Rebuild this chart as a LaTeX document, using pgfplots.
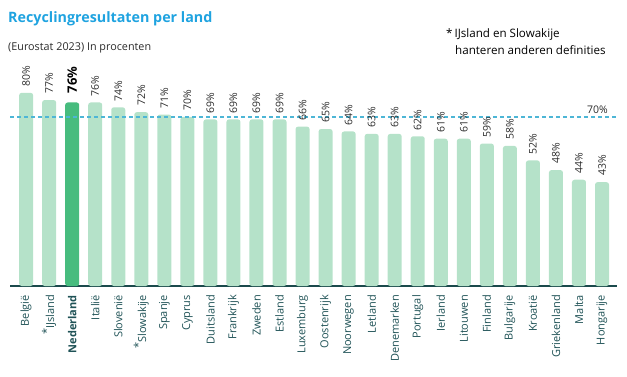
\documentclass[border=0pt]{standalone}
\usepackage{pgfplots}
\pgfplotsset{compat=1.18}
\usepackage{fontspec}
\setmainfont{Open Sans}
\definecolor{barlight}{HTML}{B5E2C9}
\definecolor{bardark}{HTML}{47BC7E}
\definecolor{titleblue}{HTML}{1FA3E0}
\definecolor{axisteal}{HTML}{1B4A4C}
\definecolor{ticktext}{HTML}{1F5256}
\definecolor{dashblue}{HTML}{4DB6D6}
\definecolor{txtgray}{HTML}{2B2B2B}
\begin{document}
\begin{tikzpicture}
\path[use as bounding box] (0,0) rectangle (627pt,376pt);
\node[anchor=base west, inner sep=0, font=\fontsize{14.3}{18}\selectfont\bfseries, text=titleblue] at (8pt,353pt) {Recyclingresultaten per land};
\node[anchor=base west, inner sep=0, font=\fontsize{10.8}{12}\selectfont, text=txtgray] at (8pt,326pt) {(Eurostat 2023) In procenten};
\node[anchor=base west, inner sep=0, font=\fontsize{11.6}{13}\selectfont, text=black] at (446pt,339pt) {*\,IJsland en Slowakije};
\node[anchor=base west, inner sep=0, font=\fontsize{11.6}{13}\selectfont, text=black] at (455pt,322pt) {hanteren anderen definities};
\begin{axis}[
  at={(10pt,90pt)}, anchor=south west,
  scale only axis, width=607pt, height=217.35pt,
  xmin=-0.7, xmax=25.65, ymin=0, ymax=90,
  clip=false,
  hide y axis,
  axis x line*=bottom,
  x axis line style={color=axisteal, line width=1.6pt},
  xtick={0,...,25},
  major tick length=0pt,
  xticklabels={België,\raisebox{0.35em}{*}IJsland,\textbf{Nederland},Italië,Slovenië,\raisebox{0.35em}{*}Slowakije,Spanje,Cyprus,Duitsland,Frankrijk,Zweden,Estland,Luxemburg,Oostenrijk,Noorwegen,Letland,Denemarken,Portugal,Ierland,Litouwen,Finland,Bulgarije,Kroatië,Griekenland,Malta,Hongarije},
  xticklabel style={rotate=90, anchor=east, font=\fontsize{11}{13}\selectfont, text=ticktext, inner sep=0pt},
  xticklabel shift=9pt,
  ybar, bar width=14pt, bar shift=0pt,
  nodes near coords={\pgfmathprintnumber[assume math mode=true]{\pgfplotspointmeta}\%},
  nodes near coords style={rotate=90, anchor=west, font=\fontsize{10.5}{12}\selectfont, text=txtgray, inner sep=0pt, xshift=6pt},
]
\addplot[draw=none, fill=barlight, rounded corners=2.5pt] coordinates {
(0,80) (1,77) (3,76) (4,74) (5,72) (6,71) (7,70) (8,69) (9,69) (10,69) (11,69) (12,66) (13,65) (14,64) (15,63) (16,63) (17,62) (18,61) (19,61) (20,59) (21,58) (22,52) (23,48) (24,44) (25,43)};
\addplot[draw=none, fill=bardark, rounded corners=2.5pt, nodes near coords style={font=\fontsize{13}{15}\selectfont\bfseries, text=black, xshift=3pt}] coordinates {(2,76)};
\addplot[sharp plot, no markers, draw=dashblue, line width=1.2pt, dash pattern=on 4pt off 3pt, nodes near coords={}] coordinates {(-0.7,70) (25.65,70)};
\node[anchor=base, font=\fontsize{10.5}{12}\selectfont, text=txtgray, inner sep=0] at (axis cs:24.8,71.5) {70\%};
\end{axis}
\end{tikzpicture}
\end{document}
